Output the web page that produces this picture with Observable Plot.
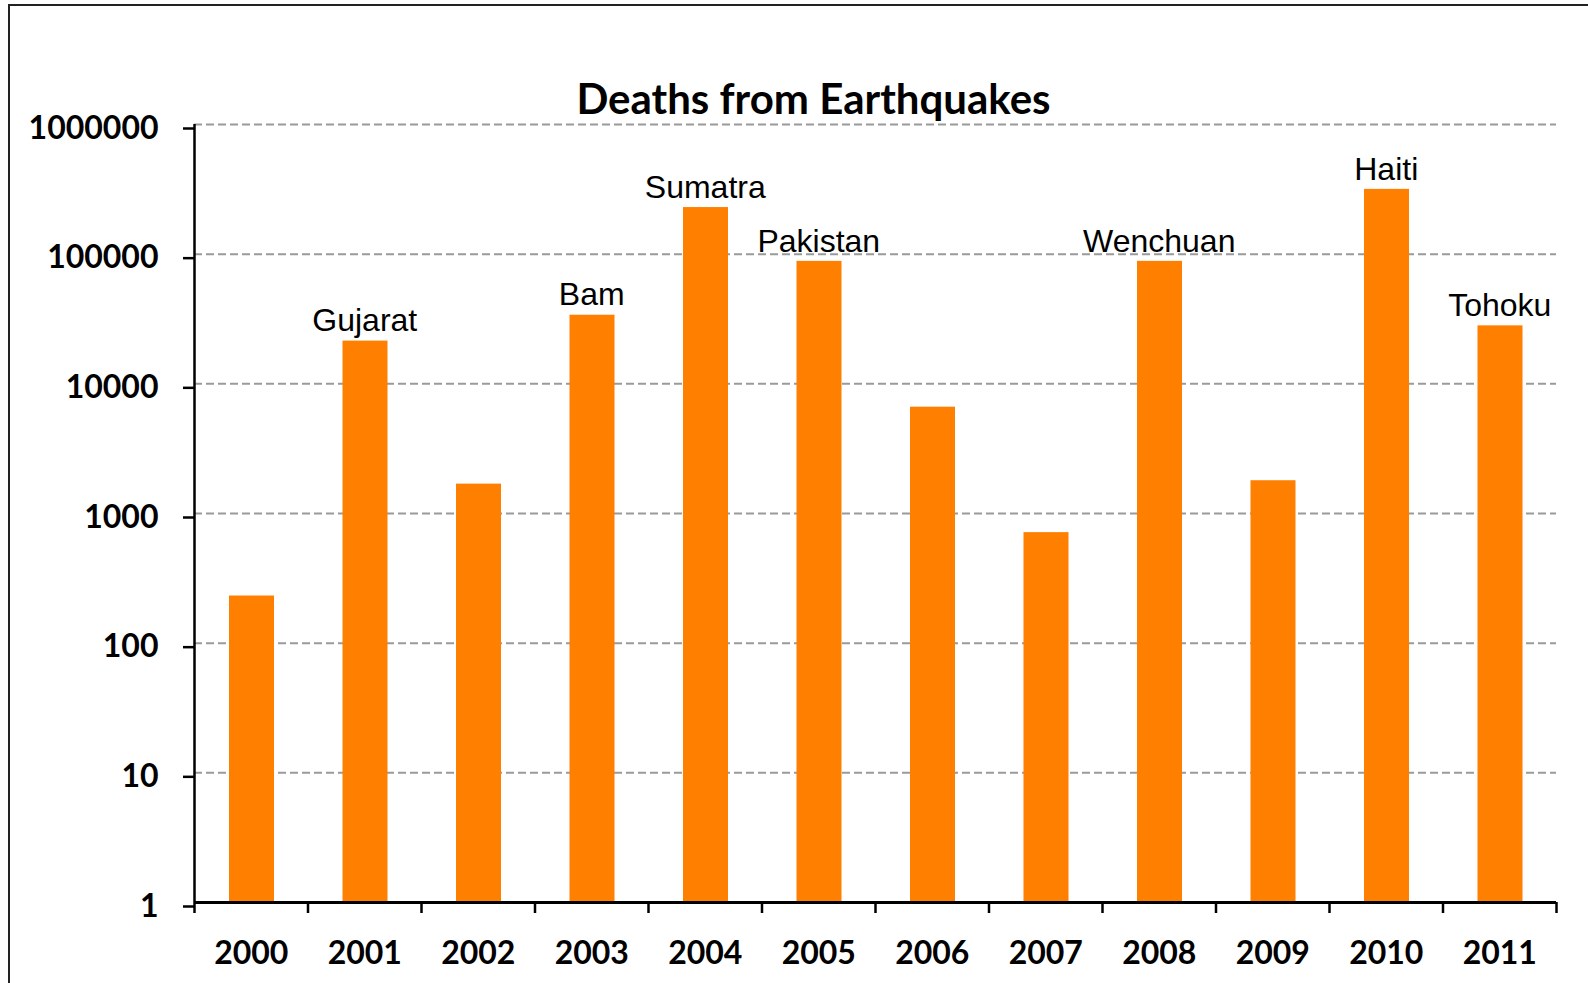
<!DOCTYPE html>
<html>
<head>
<meta charset="utf-8">
<script src="https://cdn.jsdelivr.net/npm/d3@7"></script>
<script src="https://cdn.jsdelivr.net/npm/@observablehq/plot@0.6"></script>
<style>
  html, body { margin: 0; padding: 0; background: #fff; overflow: hidden; }
  #wrap { position: relative; width: 1588px; height: 983px; }
  #frame { position: absolute; left: 8px; top: 4px; width: 1700px; height: 1100px;
           border-left: 2px solid #222; border-top: 2px solid #222; box-sizing: border-box; }
  #title { position: absolute; left: 0; width: 1627px; top: 77px; text-align: center;
           font-family: Lato, sans-serif; font-weight: 700; font-size: 42px; color: #000; line-height: 1; }
  #chart { position: absolute; left: 0; top: 0; }
</style>
</head>
<body>
<div id="wrap">
  <div id="frame"></div>
  <div id="chart"></div>
  <div id="title">Deaths from Earthquakes</div>
</div>
<script>
const years = [2000, 2001, 2002, 2003, 2004, 2005, 2006, 2007, 2008, 2009, 2010, 2011];
const deaths = [231, 21357, 1685, 33819, 228802, 88003, 6605, 712, 88011, 1790, 316000, 28000];
const names = ["", "Gujarat", "", "Bam", "Sumatra", "Pakistan", "", "", "Wenchuan", "", "Haiti", "Tohoku"];
const yTicks = [1, 10, 100, 1000, 10000, 100000, 1000000];

const data = years.map((y, i) => ({year: y, deaths: deaths[i], name: names[i]}));
const boundaries = years.concat([years[years.length - 1] + 1]);

const plot = Plot.plot({
  width: 1588,
  height: 983,
  marginLeft: 194,
  marginRight: 32,
  marginTop: 124,
  marginBottom: 81,
  style: {background: "transparent", overflow: "visible"},
  x: {type: "linear", domain: [years[0], years[years.length - 1] + 1], axis: null, label: null},
  y: {type: "log", domain: [1, 1000000], axis: null, label: null},
  marks: [
    Plot.gridY(yTicks, {stroke: "#9a9a9a", strokeOpacity: 1, strokeWidth: 2, strokeDasharray: "8,4"}),
    Plot.rectY(data, {x1: "year", x2: d => d.year + 1, y1: 1, y2: "deaths", fill: "#ff7f00", insetLeft: 35, insetRight: 33.5}),
    Plot.axisY(yTicks, {tickSize: 11, tickPadding: 25, strokeWidth: 2.5, stroke: "#000", label: null,
      tickFormat: d3.format("d"), fontFamily: "Lato, sans-serif", fontWeight: 700, fontSize: 32, fill: "#000", dy: 4}),
    Plot.axisX(boundaries, {tickSize: 11, strokeWidth: 2.5, stroke: "#000", label: null, tickFormat: () => ""}),
    Plot.ruleX([years[0]], {y1: 1, y2: 1000000, stroke: "#000", strokeWidth: 2.5}),
    Plot.ruleY([1], {stroke: "#000", strokeWidth: 3}),
    Plot.text(data, {x: d => d.year + 0.5, y: 1, text: d => String(d.year), dy: 51,
      fontFamily: "Lato, sans-serif", fontWeight: 700, fontSize: 32, fill: "#000"}),
    Plot.text(data.filter(d => d.name), {x: d => d.year + 0.5, y: "deaths", text: "name", dy: -20,
      fontFamily: "'Liberation Sans', Arial, sans-serif", fontSize: 32, fill: "#000"})
  ]
});
document.getElementById("chart").appendChild(plot);
</script>
</body>
</html>
